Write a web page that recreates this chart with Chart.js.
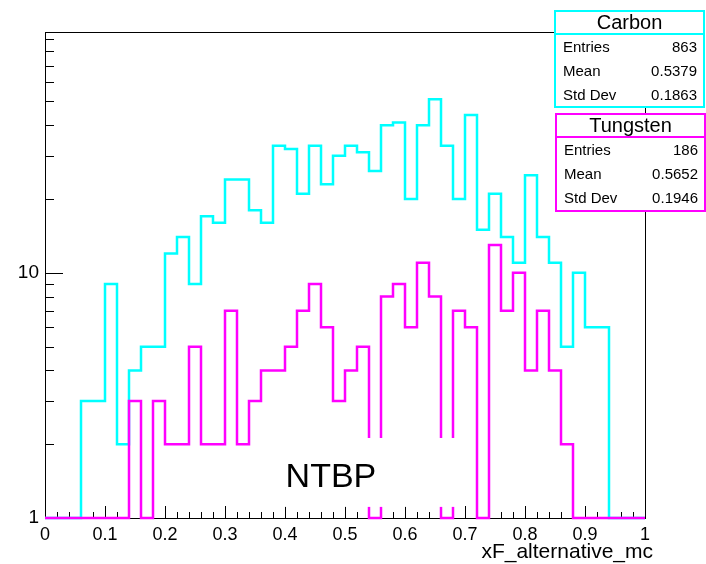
<!DOCTYPE html>
<html>
<head>
<meta charset="utf-8">
<script src="https://cdn.jsdelivr.net/npm/chart.js@4.4.0/dist/chart.umd.min.js"></script>
<style>
body { margin: 0; background: #fff; }
</style>
</head>
<body>
<canvas id="myChart" width="706" height="564"></canvas>
<script>
'use strict';

// 50 bins of width 0.02 between 0 and 1
let binWidth = 0.02;
let carbonCounts = [0, 0, 0, 3, 3, 9, 2, 4, 5, 5,
    12, 14, 9, 17, 16, 24, 24, 18, 16, 33,
    32, 21, 33, 23, 30, 33, 31, 26, 40, 41,
    20, 40, 51, 33, 20, 44, 15, 21, 14, 11,
    25, 14, 11, 5, 10, 6, 6, 0, 0, 0];
let tungstenCounts = [0, 0, 0, 0, 0, 0, 0, 3, 0, 3,
    2, 2, 5, 2, 2, 7, 2, 3, 4, 4,
    5, 7, 9, 6, 3, 4, 5, 0, 8, 9,
    6, 11, 8, 0, 7, 6, 0, 13, 7, 10,
    4, 7, 4, 2, 0, 0, 0, 0, 0, 0];
let xTickLabels = [0, 0.1, 0.2, 0.3, 0.4, 0.5, 0.6, 0.7, 0.8, 0.9, 1];
let yTickLabels = [1, 10];
let statNames = ['Entries', 'Mean', 'Std Dev'];
let carbonStats = ['863', '0.5379', '0.1863'];
let tungstenStats = ['186', '0.5652', '0.1946'];
let yMin = 1;
let yMax = 96;

let fontName = '"Liberation Sans", Arial, Helvetica, sans-serif';

function histPoints(counts) {
    let pts = [];
    for (let i = 0; i < counts.length; i++) {
        let v = Math.max(counts[i], yMin); // empty bins sit on the axis
        pts.push({ x: i * binWidth, y: v });
        pts.push({ x: (i + 1) * binWidth, y: v });
    }
    return pts;
}

function drawStats(ctx, x0, y0, w, h, titleH, color, title, values) {
    ctx.save();
    ctx.fillStyle = '#fff';
    ctx.fillRect(x0, y0, w, h);
    ctx.strokeStyle = color;
    ctx.lineWidth = 2;
    ctx.strokeRect(x0, y0, w, h);
    ctx.beginPath();
    ctx.moveTo(x0, y0 + titleH);
    ctx.lineTo(x0 + w, y0 + titleH);
    ctx.stroke();
    ctx.fillStyle = '#000';
    ctx.textBaseline = 'middle';
    ctx.textAlign = 'center';
    ctx.font = '20px ' + fontName;
    ctx.fillText(title, x0 + w / 2, y0 + titleH / 2 + 1);
    ctx.font = '15px ' + fontName;
    for (let i = 0; i < statNames.length; i++) {
        let y = y0 + 37 + i * 24;
        ctx.textAlign = 'left';
        ctx.fillText(statNames[i], x0 + 8, y);
        ctx.textAlign = 'right';
        ctx.fillText(values[i], x0 + w - 7, y);
    }
    ctx.restore();
}

let rootFrame = {
    id: 'rootFrame',
    beforeDatasetsDraw(chart) {
        let ctx = chart.ctx;
        let a = chart.chartArea;
        let xs = chart.scales.x;
        let ys = chart.scales.y;
        ctx.save();
        ctx.strokeStyle = '#000';
        ctx.lineWidth = 1;
        ctx.strokeRect(a.left + 0.5, a.top + 0.5, a.right - a.left, a.bottom - a.top);
        ctx.beginPath();
        for (let i = 0; i <= carbonCounts.length; i++) {
            let px = Math.round(xs.getPixelForValue(i * binWidth)) + 0.5;
            let len = i % 5 === 0 ? 12 : 6;
            ctx.moveTo(px, a.bottom);
            ctx.lineTo(px, a.bottom - len);
        }
        for (let d = 1; d <= yMax; d *= 10) {
            for (let k = 1; k <= 9; k++) {
                let v = d * k;
                if (v < yMin || v > yMax) continue;
                let py = Math.round(ys.getPixelForValue(v)) + 0.5;
                let len = k === 1 ? 18 : 9;
                ctx.moveTo(a.left, py);
                ctx.lineTo(a.left + len, py);
            }
        }
        ctx.stroke();
        ctx.restore();
    },
    afterDatasetsDraw(chart) {
        let ctx = chart.ctx;
        let xs = chart.scales.x;
        let ys = chart.scales.y;
        ctx.save();
        // white pave behind the label
        let l = xs.getPixelForValue(0.36), r = xs.getPixelForValue(0.70);
        let t = ys.getPixelForValue(2.12), b = ys.getPixelForValue(1.11);
        ctx.fillStyle = '#fff';
        ctx.fillRect(l, t, r - l, b - t);
        ctx.fillStyle = '#000';
        ctx.font = '34px ' + fontName;
        ctx.textAlign = 'left';
        ctx.textBaseline = 'alphabetic';
        ctx.fillText('NTBP', xs.getPixelForValue(0.401), ys.getPixelForValue(1.34));
        ctx.restore();
    },
    afterDraw(chart) {
        let ctx = chart.ctx;
        let a = chart.chartArea;
        // axis title, right aligned a little past the axis end like ROOT
        ctx.save();
        ctx.fillStyle = '#000';
        ctx.font = '21px ' + fontName;
        ctx.textAlign = 'right';
        ctx.textBaseline = 'alphabetic';
        ctx.fillText('xF_alternative_mc', a.right + 8, a.bottom + 40);
        ctx.restore();
        drawStats(ctx, 555, 11, 149, 96, 23, '#00ffff', 'Carbon', carbonStats);
        drawStats(ctx, 556, 114, 149, 97, 23, '#ff00ff', 'Tungsten', tungstenStats);
    }
};

let ctx = document.getElementById('myChart').getContext('2d');
let myChart = new Chart(ctx, {
    type: 'line',
    data: {
        datasets: [{
            label: 'Carbon',
            data: histPoints(carbonCounts),
            borderColor: '#00ffff',
            borderWidth: 2.5,
            pointRadius: 0,
            fill: false,
            tension: 0,
            clip: false,
            order: 2
        },
        {
            label: 'Tungsten',
            data: histPoints(tungstenCounts),
            borderColor: '#ff00ff',
            borderWidth: 2.5,
            pointRadius: 0,
            fill: false,
            tension: 0,
            clip: false,
            order: 1
        }]
    },
    options: {
        responsive: false,
        animation: false,
        events: [],
        layout: { padding: { top: 32, right: 61, left: 0, bottom: 0 } },
        plugins: {
            legend: { display: false },
            tooltip: { enabled: false }
        },
        scales: {
            x: {
                type: 'linear',
                min: 0,
                max: 1,
                grid: { display: false, drawTicks: false },
                border: { display: false },
                afterBuildTicks: (s) => { s.ticks = xTickLabels.map(v => ({ value: v })); },
                afterFit: (s) => { s.height = 46; },
                ticks: {
                    autoSkip: false,
                    maxRotation: 0,
                    padding: 6,
                    color: '#000',
                    font: { family: fontName, size: 18 },
                    callback: (v) => String(Math.round(v * 10) / 10)
                }
            },
            y: {
                type: 'logarithmic',
                min: yMin,
                max: yMax,
                grid: { display: false, drawTicks: false },
                border: { display: false },
                afterBuildTicks: (s) => { s.ticks = yTickLabels.map(v => ({ value: v })); },
                afterFit: (s) => { s.width = 45; },
                ticks: {
                    autoSkip: false,
                    padding: 6,
                    color: '#000',
                    font: { family: fontName, size: 19 },
                    callback: (v) => String(v)
                }
            }
        }
    },
    plugins: [rootFrame]
});
</script>
</body>
</html>
